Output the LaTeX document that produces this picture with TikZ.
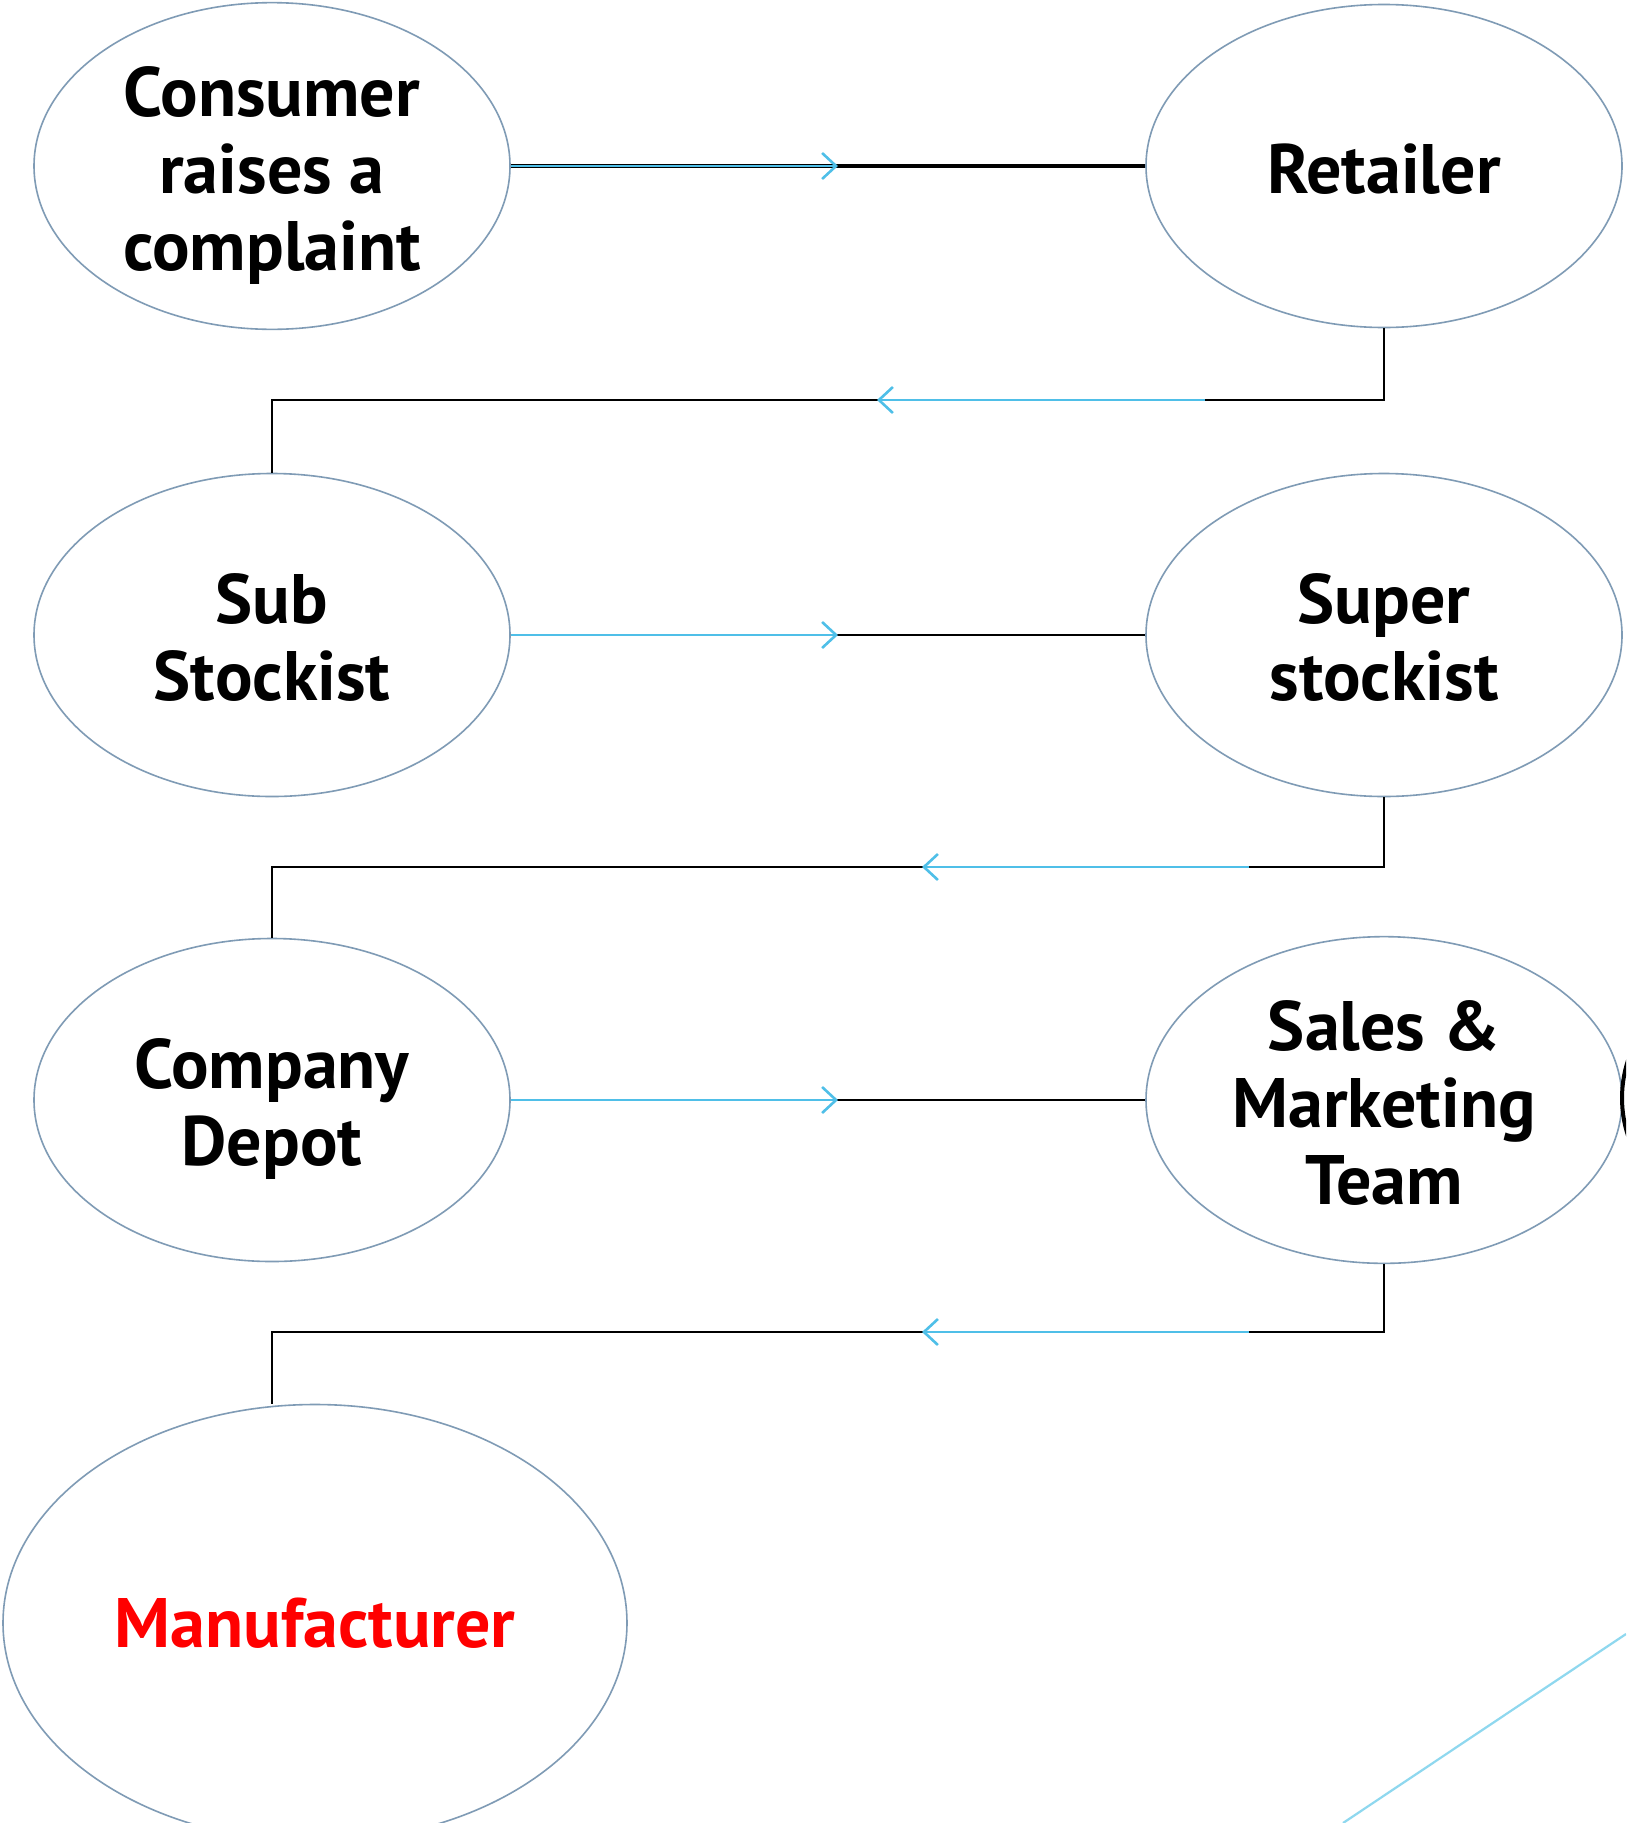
\documentclass[tikz,border=0pt]{standalone}
\usepackage{fontspec}
\setmainfont{PT Sans}
\usetikzlibrary{shapes.geometric,arrows.meta}
\definecolor{ellline}{HTML}{7F9BB5}
\definecolor{arrblue}{HTML}{4FBFE8}
\definecolor{diagblue}{HTML}{8FD8EF}
\tikzset{
  stage/.style={ellipse, draw=ellline, line width=1.6pt, minimum width=476pt, minimum height=323pt, inner sep=0pt, align=center, font=\fontsize{70}{77}\selectfont\bfseries},
  link/.style={draw=black, line width=1.8pt},
  flow/.style={draw=arrblue, line width=2.6pt, -{Straight Barb[length=14pt,width=26pt,line width=2.6pt]}},
}
\newcommand{\stacktext}[2]{\raisebox{#1}[\height][\depth]{\begin{tabular}{@{}c@{}}#2\end{tabular}}}
\begin{document}
\begin{tikzpicture}[x=1pt,y=-1pt]
\useasboundingbox (0,0) rectangle (1626,1823);
\clip (0,0) rectangle (1626,1823);
\fill[white] (0,0) rectangle (1626,1823);

\node[stage] (cons) at (272,166) {\stacktext{-12pt}{Consumer\\raises a\\complaint}};
\node[stage] (ret) at (1384,166) {\stacktext{-12pt}{Retailer}};
\node[stage] (sub) at (272,635) {\stacktext{-12pt}{Sub\\Stockist}};
\node[stage] (sup) at (1384,635) {\stacktext{-12pt}{Super\\stockist}};
\node[stage] (dep) at (272,1100) {\stacktext{-12pt}{Company\\Depot}};
\node[stage] (smt) at (1384,1100) {\stacktext{-12pt}{Sales \&\\Marketing\\Team}};
\node[stage, minimum width=624pt, minimum height=437pt, text=red] (man) at (315,1623) {\stacktext{-9pt}{Manufacturer}};

% row 1
\coordinate (a1) at (838,166);
\draw[draw=black, line width=4.5pt] (cons.east) -- (ret.west);
\draw[flow] (cons.east) -- (a1);
% down 1
\coordinate (b1) at (1384,400);
\coordinate (b2) at (272,400);
\coordinate (b3) at (1205,400);
\coordinate (b4) at (877,400);
\draw[link] (ret.south) -- (b1) -- (b2) -- (sub.north);
\draw[flow] (b3) -- (b4);
% row 2
\coordinate (a2) at (838,635);
\draw[link] (sub.east) -- (sup.west);
\draw[flow] (sub.east) -- (a2);
% down 2
\coordinate (c1) at (1384,867);
\coordinate (c2) at (272,867);
\coordinate (c3) at (1249,867);
\coordinate (c4) at (922,867);
\draw[link] (sup.south) -- (c1) -- (c2) -- (dep.north);
\draw[flow] (c3) -- (c4);
% row 3
\coordinate (a3) at (838,1100);
\draw[link] (dep.east) -- (smt.west);
\draw[flow] (dep.east) -- (a3);
% down 3
\coordinate (d1) at (1384,1332);
\coordinate (d2) at (272,1332);
\coordinate (d3) at (1249,1332);
\coordinate (d4) at (922,1332);
\coordinate (d5) at (272,1404);
\draw[link] (smt.south) -- (d1) -- (d2) -- (d5);
\draw[flow] (d3) -- (d4);

% partial shape at right edge
\draw[black, line width=4pt] (1722,1098) ellipse[x radius=100pt, y radius=110pt];
% diagonal line
\coordinate (e1) at (1343,1823);
\coordinate (e2) at (1626,1634);
\draw[diagblue, line width=2.2pt] (e1) -- (e2);
\end{tikzpicture}
\end{document}
